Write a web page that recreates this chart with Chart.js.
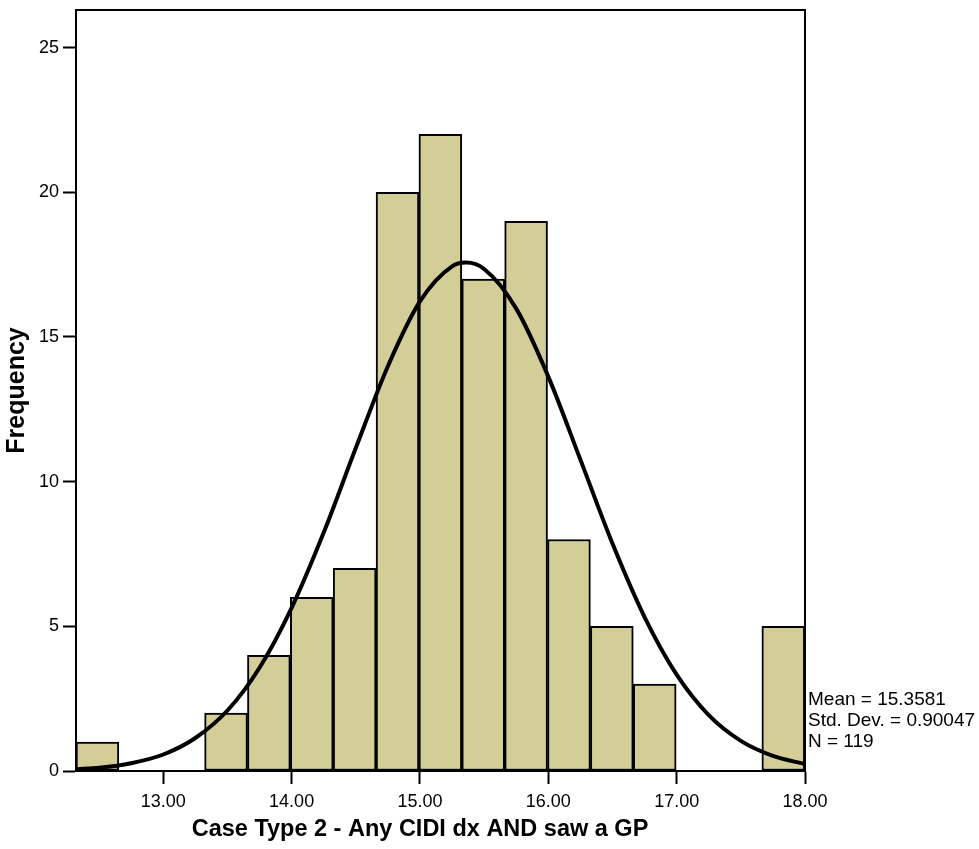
<!DOCTYPE html>
<html>
<head>
<meta charset="utf-8">
<script src="https://cdn.jsdelivr.net/npm/chart.js@4/dist/chart.umd.min.js"></script>
<style>
  body { margin: 0; background: #fff; }
  #wrap { width: 979px; height: 849px; position: relative; }
</style>
</head>
<body>
<div id="wrap"><canvas id="histChart"></canvas></div>
<script>
// histogram bins (centres) and counts
const binCentres = [12.487, 12.821, 13.155, 13.489, 13.823, 14.157, 14.491, 14.825, 15.159,
                    15.493, 15.827, 16.161, 16.495, 16.829, 17.163, 17.497, 17.831];
const binCounts = [1, 0, 0, 2, 4, 6, 7, 20, 22, 17, 19, 8, 5, 3, 0, 0, 5];

// normal curve
const curveX = [12.32, 12.5, 12.75, 13.0, 13.25, 13.5, 13.75, 14.0, 14.25, 14.5, 14.75, 15.0,
                15.25, 15.36, 15.5, 15.75, 16.0, 16.25, 16.5, 16.75, 17.0, 17.25, 17.5, 17.75, 18.0];
const curveY = [0.06, 0.11, 0.27, 0.57, 1.14, 2.09, 3.57, 5.64, 8.24, 11.16, 13.99, 16.23,
                17.44, 17.57, 17.35, 15.98, 13.63, 10.76, 7.86, 5.32, 3.33, 1.93, 1.04, 0.52, 0.24];

const xTicks = [13, 14, 15, 16, 17, 18];
const yTicks = [0, 5, 10, 15, 20, 25];
const xTitle = 'Case Type 2 - Any CIDI dx AND saw a GP';
const statLines = ['Mean = 15.3581', 'Std. Dev. = 0.90047', 'N = 119'];

const fontFamily = '"Liberation Sans", Arial, sans-serif';

// frame round the plot, x title and the stats box
const frameAndText = {
    id: 'frameAndText',
    afterDatasetsDraw(chart) {
        const ctx = chart.ctx;
        const a = chart.chartArea;
        ctx.save();
        ctx.strokeStyle = '#000';
        ctx.lineWidth = 2;
        ctx.strokeRect(a.left, a.top, a.right - a.left, a.bottom - a.top);
        ctx.fillStyle = '#000';
        ctx.font = '19px ' + fontFamily;
        ctx.textAlign = 'left';
        ctx.textBaseline = 'middle';
        for (let i = 0; i < statLines.length; i++) {
            ctx.fillText(statLines[i], a.right + 3, 700 + i * 21);
        }
        ctx.font = 'bold 23.5px ' + fontFamily;
        ctx.textAlign = 'center';
        ctx.fillText(xTitle, 420, 830);
        ctx.restore();
    }
};

const points = binCentres.map((c, i) => ({ x: c, y: binCounts[i] }));
const curve = curveX.map((x, i) => ({ x: x, y: curveY[i] }));

new Chart(document.getElementById('histChart'), {
    type: 'bar',
    data: {
        datasets: [{
            type: 'line',
            data: curve,
            borderColor: '#000',
            borderWidth: 4,
            pointRadius: 0,
            cubicInterpolationMode: 'monotone',
            fill: false,
            order: 0
        }, {
            type: 'bar',
            data: points,
            backgroundColor: '#d3ce97',
            borderColor: '#000',
            borderWidth: 2,
            borderSkipped: false,
            barPercentage: 1,
            categoryPercentage: 1,
            grouped: false,
            order: 1
        }]
    },
    options: {
        responsive: true,
        maintainAspectRatio: false,
        animation: false,
        layout: { padding: { top: 10, right: 174, left: 0, bottom: 0 } },
        plugins: { legend: { display: false }, tooltip: { enabled: false } },
        scales: {
            x: {
                type: 'linear',
                offset: false,
                min: 12.32,
                max: 18,
                afterBuildTicks: s => { s.ticks = xTicks.map(v => ({ value: v })); },
                afterFit: s => { s.height = 78; },
                grid: { offset: false, drawOnChartArea: false, tickLength: 13, tickWidth: 2, tickColor: '#000' },
                border: { color: '#000', width: 2 },
                ticks: {
                    color: '#000', padding: 7, maxRotation: 0,
                    font: { family: fontFamily, size: 18 },
                    callback: v => Number(v).toFixed(2)
                }
            },
            y: {
                min: 0,
                max: 26.3,
                afterBuildTicks: s => { s.ticks = yTicks.map(v => ({ value: v })); },
                afterFit: s => { s.width = 76; s.paddingTop = 0; s.paddingBottom = 0; },
                grid: { drawOnChartArea: false, tickLength: 13, tickWidth: 2, tickColor: '#000' },
                border: { color: '#000', width: 2 },
                ticks: { color: '#000', padding: 4, font: { family: fontFamily, size: 18 } },
                title: {
                    display: true,
                    text: 'Frequency',
                    color: '#000',
                    font: { family: fontFamily, size: 25, weight: 'bold' },
                    padding: { top: 2, bottom: 0 }
                }
            }
        }
    },
    plugins: [frameAndText]
});
</script>
</body>
</html>
